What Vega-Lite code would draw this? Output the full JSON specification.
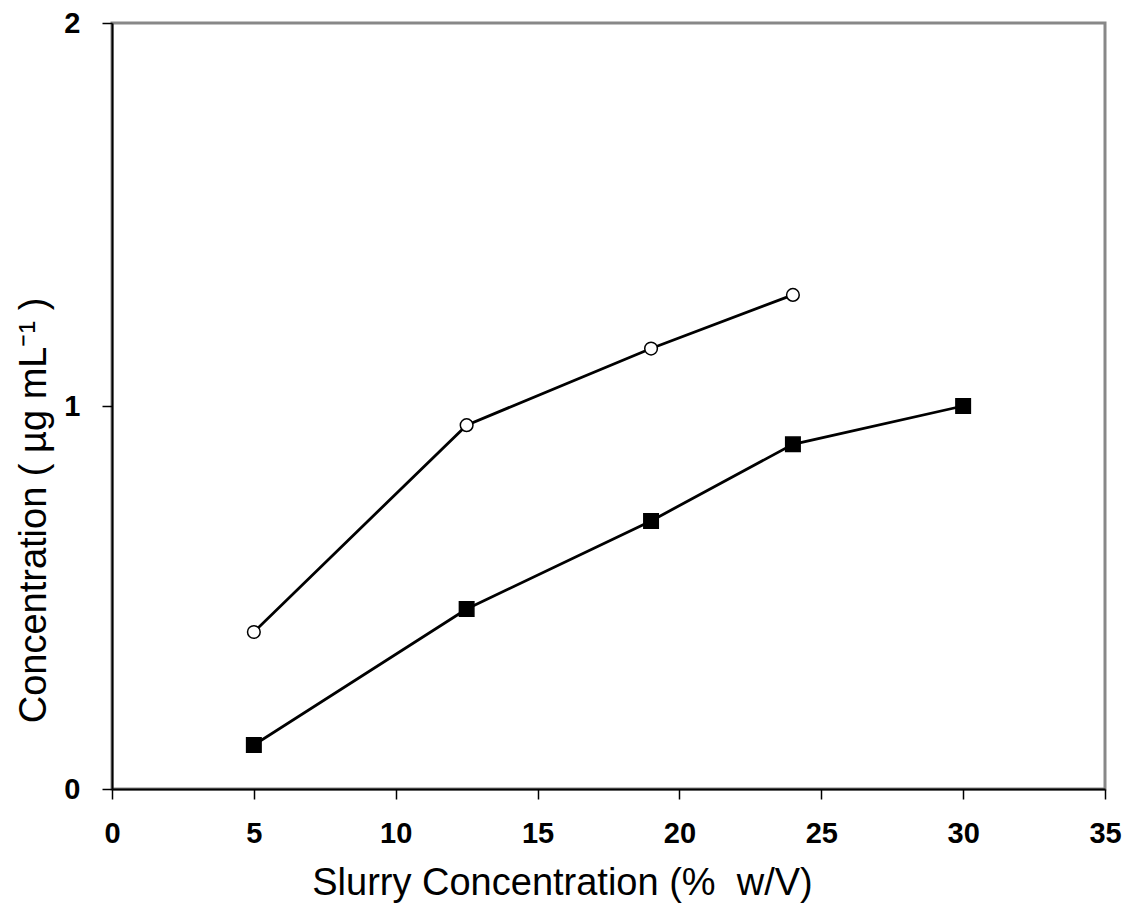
{
  "$schema": "https://vega.github.io/schema/vega-lite/v6.json",
  "autosize": "none",
  "width": 993,
  "height": 766,
  "padding": {"left": 112, "top": 23, "right": 20, "bottom": 115},
  "background": "white",
  "config": {
    "view": {"stroke": "#888888", "strokeWidth": 3},
    "axis": {
      "domainColor": "black",
      "domainWidth": 2,
      "tickColor": "black",
      "tickWidth": 1.5,
      "tickSize": 10,
      "grid": false,
      "labelFont": "Liberation Sans",
      "labelFontWeight": "bold",
      "labelFontSize": 29,
      "labelColor": "black",
      "titleFont": "Liberation Sans",
      "titleFontWeight": "normal",
      "titleFontSize": 38,
      "titleColor": "black"
    }
  },
  "data": {
    "values": [
      {"series": "open", "x": 5, "y": 0.41},
      {"series": "open", "x": 12.5, "y": 0.95},
      {"series": "open", "x": 19, "y": 1.15},
      {"series": "open", "x": 24, "y": 1.29},
      {"series": "filled", "x": 5, "y": 0.115},
      {"series": "filled", "x": 12.5, "y": 0.47},
      {"series": "filled", "x": 19, "y": 0.70},
      {"series": "filled", "x": 24, "y": 0.90},
      {"series": "filled", "x": 30, "y": 1.0}
    ]
  },
  "encoding": {
    "x": {
      "field": "x",
      "type": "quantitative",
      "scale": {"domain": [0, 35], "nice": false, "zero": false},
      "axis": {
        "title": "Slurry Concentration (%\u00a0 w/V)",
        "values": [0, 5, 10, 15, 20, 25, 30, 35],
        "format": "d",
        "labelFlush": false,
        "labelOverlap": false,
        "labelPadding": 20,
        "titleX": 450,
        "titleY": 94,
        "titleBaseline": "middle",
        "titleAlign": "center"
      }
    },
    "y": {
      "field": "y",
      "type": "quantitative",
      "scale": {"domain": [0, 2], "nice": false},
      "axis": {
        "title": "Concentration ( µg mL⁻¹ )",
        "values": [0, 1, 2],
        "format": ".0f",
        "labelPadding": 22,
        "titleX": -78,
        "titleY": 487,
        "titleBaseline": "middle",
        "titleAlign": "center",
        "titleAngle": -90
      }
    }
  },
  "layer": [
    {
      "mark": {"type": "line", "color": "black", "strokeWidth": 2.8},
      "encoding": {"detail": {"field": "series"}}
    },
    {
      "mark": {"type": "point", "filled": false, "opacity": 1, "stroke": "black", "strokeWidth": 1.5},
      "encoding": {
        "shape": {
          "field": "series",
          "type": "nominal",
          "scale": {"domain": ["open", "filled"], "range": ["circle", "square"]},
          "legend": null
        },
        "fill": {
          "field": "series",
          "type": "nominal",
          "scale": {"domain": ["open", "filled"], "range": ["white", "black"]},
          "legend": null
        },
        "size": {
          "field": "series",
          "type": "nominal",
          "scale": {"domain": ["open", "filled"], "range": [160, 210]},
          "legend": null
        }
      }
    }
  ]
}
